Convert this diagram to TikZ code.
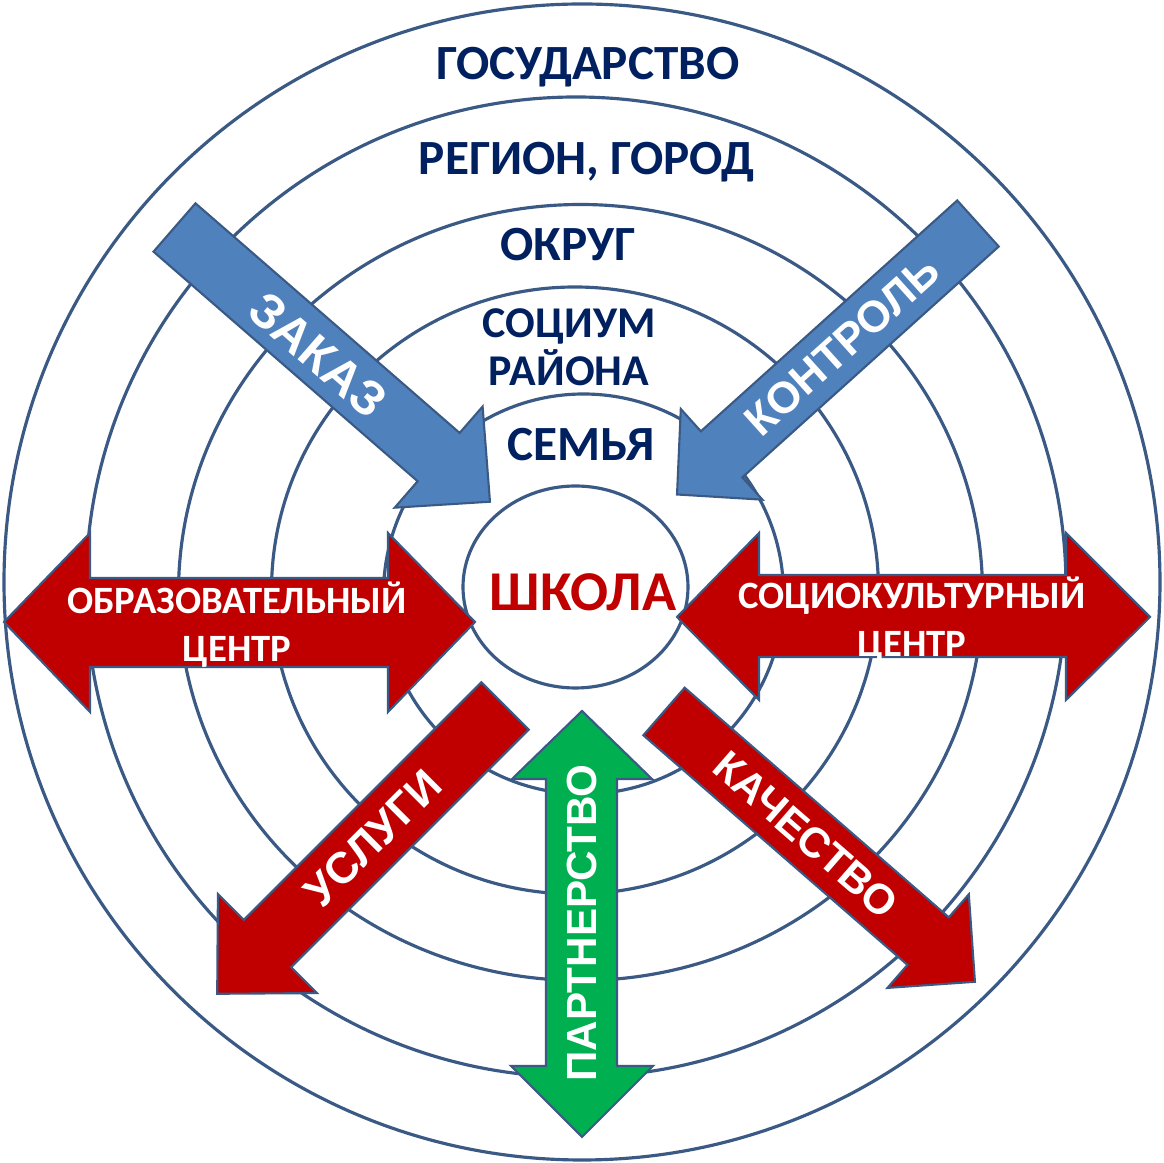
\documentclass[tikz,border=0pt]{standalone}
\usepackage{fontspec}
\setmainfont{Carlito}
\newfontfamily\arialfont{Liberation Sans}
\definecolor{ringline}{HTML}{3A5A85}
\definecolor{zakazblue}{HTML}{4F81BD}
\definecolor{darkred}{HTML}{C00000}
\definecolor{partgreen}{HTML}{00B050}
\definecolor{navytext}{HTML}{002060}
\begin{document}
\begin{tikzpicture}[x=0.1mm, y=-0.1mm,
    ring/.style={draw=ringline, line width=0.9pt},
    blockarrow/.style={draw=ringline, line width=0.6pt, line join=miter},
    ringlabel/.style={text=navytext, align=center, font=\bfseries\fontsize{14}{16}\selectfont},
    arrowlabel/.style={text=white, font=\arialfont\bfseries\fontsize{12.5}{14}\selectfont},
    centrelabel/.style={text=white, align=center, font=\bfseries\fontsize{11}{13.7}\selectfont}]
    \fill[white] (0,0) rectangle (1164,1163);
    \useasboundingbox (0,0) rectangle (1164,1163);

    % rings
    \draw[ring] (582,582) circle[radius=578];
    \draw[ring] (576,587) circle[radius=490];
    \draw[ring] (580.5,592.5) ellipse[x radius=402, y radius=388];
    \draw[ring] (575,590.5) circle[radius=303.5];
    \draw[ring] (583.5,594) circle[radius=200];
    \draw[ring, fill=white] (575.5,587) ellipse[x radius=112.5, y radius=101];

    % incoming arrows
    \begin{scope}[shift={(174.5,227.5)}, rotate=-41]
        \filldraw[blockarrow, fill=zakazblue] (0,-32) -- (350,-32) -- (350,-67) -- (418,0) -- (350,67) -- (350,32) -- (0,32) -- cycle;
        \node[arrowlabel, rotate=-41, font=\arialfont\bfseries\fontsize{14}{16}\selectfont] (zakaz) at (192,2) {ЗАКАЗ};
    \end{scope}
    \begin{scope}[shift={(978,223.5)}, rotate=222]
        \filldraw[blockarrow, fill=zakazblue] (0,-31) -- (345,-31) -- (345,-61) -- (405,0) -- (345,61) -- (345,31) -- (0,31) -- cycle;
        \node[arrowlabel, rotate=42] (kontrol) at (183,0) {КОНТРОЛЬ};
    \end{scope}

    % outgoing arrows
    \begin{scope}[shift={(505,706)}, rotate=225]
        \filldraw[blockarrow, fill=darkred] (0,-33.5) -- (336,-33.5) -- (336,-70) -- (407,0) -- (336,70) -- (336,33.5) -- (0,33.5) -- cycle;
        \node[arrowlabel, rotate=45] (uslugi) at (187,0) {УСЛУГИ};
    \end{scope}
    \begin{scope}[shift={(664,711.5)}, rotate=-41]
        \filldraw[blockarrow, fill=darkred] (0,-31.5) -- (350,-31.5) -- (350,-62) -- (412,0) -- (350,62) -- (350,31.5) -- (0,31.5) -- cycle;
        \node[arrowlabel, rotate=-41, font=\arialfont\bfseries\fontsize{12}{14}\selectfont] (kachestvo) at (188,0) {КАЧЕСТВО};
    \end{scope}

    % double arrows
    \filldraw[blockarrow, fill=darkred] (4,622) -- (90,533) -- (90,578) -- (388,578) -- (388,533) -- (475,622)
        -- (388,712) -- (388,667) -- (90,667) -- (90,712) -- cycle;
    \filldraw[blockarrow, fill=darkred] (677,617) -- (759,533) -- (759,575) -- (1066,575) -- (1066,533) -- (1150,617)
        -- (1066,700) -- (1066,657) -- (759,657) -- (759,700) -- cycle;
    \filldraw[blockarrow, fill=partgreen] (582,711) -- (652,779) -- (617,779) -- (617,1066) -- (653,1066) -- (582,1137)
        -- (511,1066) -- (546,1066) -- (546,779) -- (512,779) -- cycle;

    % labels
    \node[ringlabel] (gos) at (588,67) {ГОСУДАРСТВО};
    \node[ringlabel] (region) at (587,162) {РЕГИОН, ГОРОД};
    \node[ringlabel] (okrug) at (568,245) {ОКРУГ};
    \node[ringlabel, font=\bfseries\fontsize{12.5}{13.7}\selectfont] (socium) at (569,347) {СОЦИУМ\\РАЙОНА};
    \node[ringlabel] (semya) at (581,445) {СЕМЬЯ};
    \node[text=darkred, font=\bfseries\fontsize{16}{19}\selectfont] (school) at (583,592) {ШКОЛА};
    \node[centrelabel] (obrcentr) at (237,625) {ОБРАЗОВАТЕЛЬНЫЙ\\ЦЕНТР};
    \node[centrelabel] (soccentr) at (912,620) {СОЦИОКУЛЬТУРНЫЙ\\ЦЕНТР};
    \node[arrowlabel, rotate=90, font=\arialfont\bfseries\fontsize{12}{14}\selectfont] (partner) at (582,923) {ПАРТНЕРСТВО};
\end{tikzpicture}
\end{document}
